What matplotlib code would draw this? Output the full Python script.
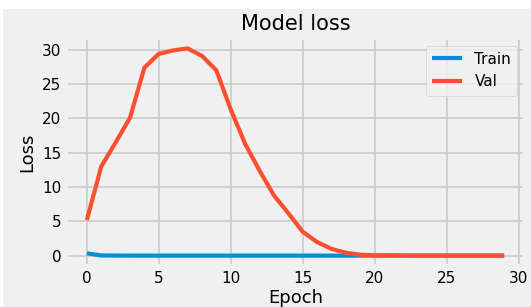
import matplotlib.pyplot as plt
from matplotlib.patches import Rectangle

plt.style.use('fivethirtyeight')

epochs = list(range(30))
train_loss = [0.35, 0.05, 0.03, 0.02, 0.02, 0.02, 0.02, 0.02, 0.02, 0.02,
              0.02, 0.02, 0.02, 0.02, 0.02, 0.02, 0.02, 0.02, 0.02, 0.02,
              0.02, 0.02, 0.02, 0.02, 0.02, 0.02, 0.02, 0.02, 0.02, 0.02]
val_loss = [5.2, 13.0, 16.5, 20.1, 27.4, 29.4, 29.9, 30.2, 29.1, 27.0,
            21.3, 16.3, 12.4, 8.8, 6.2, 3.5, 2.0, 1.0, 0.45, 0.15,
            0.08, 0.05, 0.04, 0.03, 0.03, 0.03, 0.03, 0.03, 0.03, 0.03]

fig = plt.figure(figsize=(5.31, 3.07), dpi=100, facecolor='white')
# grey panel of the cropped figure (white strip at the top)
fig.patches.append(Rectangle((0.006, 0), 0.994, 1 - 9 / 307, transform=fig.transFigure,
                             facecolor='#f0f0f0', edgecolor='none', zorder=-1))

ax = fig.add_axes([66 / 531, 41 / 307, 459 / 531, 228 / 307])
ax.plot(epochs, train_loss, lw=3, label='Train')
ax.plot(epochs, val_loss, lw=3, label='Val')

ax.set_title('Model loss', fontsize=15, pad=6)
ax.set_xlabel('Epoch', fontsize=13, labelpad=2)
ax.set_ylabel('Loss', fontsize=13, labelpad=4)
ax.tick_params(labelsize=11)
ax.grid(lw=1.2)
ax.set_xticks([0, 5, 10, 15, 20, 25, 30])
ax.set_yticks([0, 5, 10, 15, 20, 25, 30])
ax.legend(loc='upper right', fontsize=11)

fig.savefig('out.png', dpi=100, facecolor=fig.get_facecolor())
